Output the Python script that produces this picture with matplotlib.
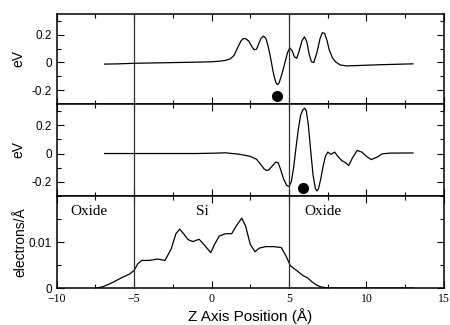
import matplotlib
matplotlib.use("Agg")
import matplotlib.pyplot as plt
from matplotlib.ticker import MultipleLocator

# potential change, upper panel (Z in Angstrom, eV)
z_top = [-6.9, -6.0, -5.0, -4.0, -3.0, -2.0, -1.0, 0.0, 0.5, 0.9, 1.2, 1.45, 1.7, 1.9,
         2.05, 2.2, 2.4, 2.6, 2.75, 2.9, 3.05, 3.2, 3.35, 3.5, 3.65, 3.8, 4.0, 4.15,
         4.25, 4.35, 4.5, 4.7, 4.9, 5.05, 5.2, 5.35, 5.5, 5.65, 5.85, 6.0, 6.15, 6.3,
         6.45, 6.6, 6.8, 7.0, 7.15, 7.3, 7.45, 7.6, 7.8, 8.0, 8.3, 8.7, 9.5, 11.0, 13.0]
ev_top = [-0.012, -0.010, -0.006, -0.004, -0.002, 0.0, 0.002, 0.005, 0.009, 0.015,
          0.025, 0.05, 0.11, 0.155, 0.172, 0.172, 0.155, 0.115, 0.092, 0.095, 0.135,
          0.175, 0.19, 0.175, 0.12, 0.04, -0.08, -0.145, -0.16, -0.15, -0.1, -0.02,
          0.07, 0.105, 0.085, 0.04, 0.03, 0.08, 0.16, 0.185, 0.15, 0.06, 0.005,
          0.0, 0.07, 0.17, 0.215, 0.21, 0.16, 0.09, 0.035, 0.005, -0.018, -0.025,
          -0.022, -0.016, -0.010]
dot_top = (4.25, -0.24)

# middle panel
z_mid = [-6.9, -3.0, -1.0, 0.0, 0.9, 1.8, 2.5, 2.9, 3.2, 3.4, 3.55, 3.7, 3.95, 4.15,
         4.3, 4.45, 4.65, 4.85, 5.0, 5.15, 5.3, 5.45, 5.6, 5.75, 5.9, 6.02, 6.12,
         6.25, 6.4, 6.55, 6.7, 6.8, 6.9, 7.05, 7.2, 7.35, 7.5, 7.7, 7.95, 8.15, 8.4,
         8.65, 8.85, 9.1, 9.4, 9.7, 10.0, 10.3, 10.7, 11.0, 11.5, 13.0]
ev_mid = [0.0, 0.0, 0.0, 0.002, 0.005, -0.005, -0.02, -0.04, -0.08, -0.11, -0.12,
          -0.115, -0.085, -0.06, -0.065, -0.11, -0.18, -0.225, -0.233, -0.2, -0.1,
          0.04, 0.17, 0.27, 0.31, 0.32, 0.3, 0.2, 0.02, -0.15, -0.245, -0.265,
          -0.25, -0.18, -0.09, -0.02, 0.01, -0.005, 0.01, -0.02, -0.05, -0.065,
          -0.085, -0.03, 0.022, 0.01, -0.02, -0.043, -0.025, -0.003, 0.003, 0.004]
dot_mid = (5.88, -0.245)

# electron density, lower panel
z_bot = [-7.4, -7.0, -6.5, -6.1, -5.7, -5.3, -5.0, -4.75, -4.5, -4.0, -3.5, -3.0,
         -2.6, -2.3, -2.05, -1.8, -1.5, -1.2, -0.8, -0.5, -0.05, 0.2, 0.5, 0.9, 1.3,
         1.6, 1.95, 2.2, 2.5, 2.8, 3.1, 3.5, 4.0, 4.5, 4.8, 5.1, 5.5, 5.9, 6.2, 6.5,
         6.8, 7.1, 7.6, 13.0]
rho_bot = [0.0, 0.0003, 0.001, 0.0017, 0.0024, 0.003, 0.0038, 0.0053, 0.006, 0.006,
           0.0063, 0.006, 0.0085, 0.0118, 0.0128, 0.0118, 0.0105, 0.0101, 0.0106,
           0.0095, 0.0077, 0.0095, 0.0113, 0.0118, 0.0118, 0.0135, 0.0152, 0.0135,
           0.0095, 0.0079, 0.0087, 0.009, 0.009, 0.0088, 0.007, 0.0048, 0.0038,
           0.0027, 0.0022, 0.0013, 0.0006, 0.0002, 0.0, 0.0]

interfaces = [-5, 5]
regions = [("Oxide", -7.9), ("Si", -0.6), ("Oxide", 7.2)]

serif = "Liberation Serif"
sans = "Liberation Sans"

fig = plt.figure(figsize=(4.5, 3.25), dpi=100)
L, W = 0.1256, 0.861
ax1 = fig.add_axes([L, 0.68, W, 0.277])
ax2 = fig.add_axes([L, 0.397, W, 0.283], sharex=ax1)
ax3 = fig.add_axes([L, 0.1138, W, 0.283], sharex=ax1)

ax1.plot(z_top, ev_top, color="black", lw=0.9)
ax1.plot(*dot_top, "o", color="black", ms=7)
ax2.plot(z_mid, ev_mid, color="black", lw=0.9)
ax2.plot(*dot_mid, "o", color="black", ms=7)
ax3.plot(z_bot, rho_bot, color="black", lw=0.9)

for ax in (ax1, ax2):
    ax.set_ylim(-0.3, 0.35)
    ax.yaxis.set_minor_locator(MultipleLocator(0.1))
    ax.set_yticks([-0.2, 0, 0.2])
    ax.set_yticklabels(["-0.2", "0", "0.2"])
    ax.set_ylabel("eV", family=sans, fontsize=10, labelpad=4)
    plt.setp(ax.get_xticklabels(), visible=False)

ax3.set_ylim(0, 0.02)
ax3.set_yticks([0, 0.01])
ax3.set_yticklabels(["0", "0.01"])
ax3.yaxis.set_minor_locator(MultipleLocator(0.005))
ax3.set_ylabel("electrons/Å", family=sans, fontsize=10, labelpad=1)

ax3.set_xlim(-10, 15)
ax3.xaxis.set_major_locator(MultipleLocator(5))
ax3.xaxis.set_minor_locator(MultipleLocator(2.5))
ax3.set_xlabel("Z Axis Position (Å)", family=sans, fontsize=11, labelpad=2)

for ax in (ax1, ax2, ax3):
    for xv in interfaces:
        ax.axvline(xv, color="#333333", lw=0.9)
    ax.tick_params(which="both", direction="in", top=True, right=True)
    ax.tick_params(which="major", length=5, width=0.8)
    ax.tick_params(which="minor", length=3, width=0.8)
    for s in ax.spines.values():
        s.set_linewidth(1.1)
    for t in ax.get_yticklabels():
        t.set_family(sans)
        t.set_fontsize(8.5)
for t in ax3.get_xticklabels():
    t.set_family(serif)
    t.set_fontsize(8.5)

for name, xpos in regions:
    ax3.text(xpos, 0.0167, name, family=serif, fontsize=11, ha="center", va="center")

fig.savefig("out.png", dpi=100)
